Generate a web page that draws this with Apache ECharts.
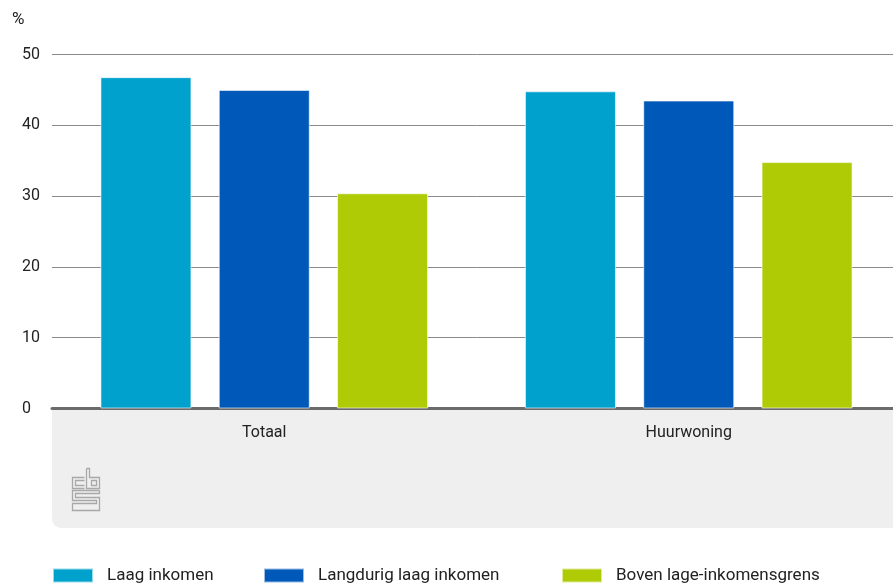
<!DOCTYPE html>
<html><head><meta charset="utf-8">
<script src="https://cdn.jsdelivr.net/npm/echarts@6/dist/echarts.min.js"></script>
<style>html,body{margin:0;padding:0;background:#fff;overflow:hidden}#c{width:901px;height:585px}</style>
</head><body><div id="c"></div>
<script>
const categories = ['Totaal', 'Huurwoning'];
const seriesNames = ['Laag inkomen', 'Langdurig laag inkomen', 'Boven lage-inkomensgrens'];
const laagInkomen = [46.8, 44.8];
const langdurigLaagInkomen = [45.0, 43.5];
const bovenGrens = [30.4, 34.8];
const colors = ['#00a1cd', '#0058b8', '#afcb05'];
const yTicks = [0, 10, 20, 30, 40, 50];

const FONT = 'Roboto, "Noto Sans", sans-serif';
const chart = echarts.init(document.getElementById('c'));
const values = [laagInkomen, langdurigLaagInkomen, bovenGrens];
const legendLefts = [52, 263, 561];

chart.setOption({
  animation: false,
  textStyle: { fontFamily: FONT },
  grid: { left: 52, right: 0, top: 54.5, bottom: 176.5, containLabel: false },
  xAxis: {
    type: 'category', data: categories,
    axisLine: { show: true, lineStyle: { color: '#6b6b6b', width: 3 } },
    axisTick: { show: false },
    axisLabel: { color: '#222', fontSize: 16, margin: 16, fontFamily: FONT }
  },
  yAxis: {
    type: 'value', min: yTicks[0], max: yTicks[yTicks.length - 1], interval: 10,
    axisLine: { show: false }, axisTick: { show: false },
    axisLabel: { color: '#222', fontSize: 16, margin: 30, align: 'left', fontFamily: FONT },
    splitLine: { lineStyle: { color: '#8a8a8a', width: 1 } }
  },
  legend: legendLefts.map((l, i) => ({
    data: [seriesNames[i]], left: l, top: 567, padding: 0, itemWidth: 40, itemHeight: 14,
    icon: 'rect', selectedMode: false,
    textStyle: { fontSize: 17, color: '#222', padding: [0, 0, 0, 9], fontFamily: FONT }
  })),
  graphic: [
    { type: 'text', left: 12, top: 11, z: 10, style: { text: '%', fontSize: 17, fill: '#222', fontFamily: FONT } },
    { type: 'rect', z: -10, shape: { x: 52, y: 409, width: 860, height: 119, r: [0, 0, 0, 9] }, style: { fill: '#efefef' } },
    { type: 'group', left: 70, top: 466, z: 5, children: [
      { type: 'polyline', shape: { points: [[13,9],[1,9],[1,20],[13,20]] }, style: { stroke: '#a8a8a8', lineWidth: 1.3, fill: null } },
      { type: 'polyline', shape: { points: [[13,12],[4,12],[4,17],[13,17]] }, style: { stroke: '#a8a8a8', lineWidth: 1.3, fill: null } },
      { type: 'polyline', shape: { points: [[15,0],[15,20],[28,20],[28,9],[18,9],[18,0],[15,0]] }, style: { stroke: '#a8a8a8', lineWidth: 1.3, fill: null } },
      { type: 'rect', shape: { x: 20, y: 12, width: 5, height: 5 }, style: { stroke: '#a8a8a8', lineWidth: 1.3, fill: null } },
      { type: 'polyline', shape: { points: [[28,22],[1,22],[1,32],[25,32],[25,35],[1,35],[1,42],[28,42],[28,29],[4,29],[4,25],[28,25],[28,22]] }, style: { stroke: '#a8a8a8', lineWidth: 1.3, fill: null } }
    ] }
  ],
  series: values.map((v, i) => ({
    name: seriesNames[i], type: 'bar', data: v,
    barWidth: 91, barGap: '30%',
    itemStyle: { color: colors[i], borderColor: 'rgba(255,255,255,0.6)', borderWidth: 1 }
  }))
});
</script></body></html>
